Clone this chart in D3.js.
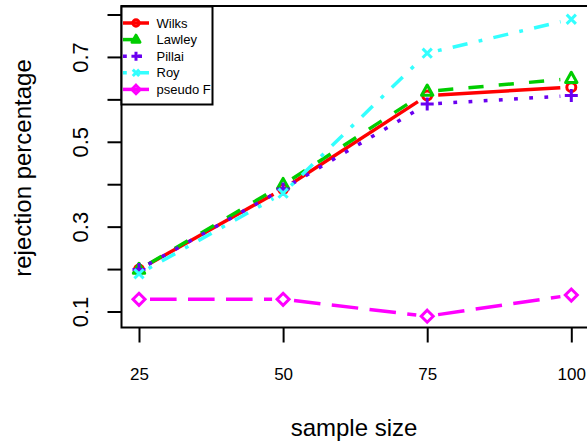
<!DOCTYPE html>
<html><head><meta charset="utf-8">
<script src="https://cdn.jsdelivr.net/npm/d3@7"></script>
<style>body{margin:0;background:#fff}svg{display:block;font-family:"Liberation Sans",Arial,Helvetica,sans-serif}</style>
</head><body><svg id="c" width="587" height="444"></svg>
<script>
const sampleSizes = [25, 50, 75, 100];
const wilks   = [0.20, 0.39, 0.61, 0.63];
const lawley  = [0.20, 0.40, 0.62, 0.65];
const pillai  = [0.20, 0.39, 0.59, 0.61];
const roy     = [0.19, 0.38, 0.71, 0.79];
const pseudoF = [0.13, 0.13, 0.09, 0.14];
const seriesNames = ["Wilks", "Lawley", "Pillai", "Roy", "pseudo F"];
const yTicks = [0.1, 0.2, 0.3, 0.4, 0.5, 0.6, 0.7, 0.8];
const yTickLabels = ["0.1", "", "0.3", "", "0.5", "", "0.7", ""];

const U = 3.8;
const styles = [
  {color:"#ff0000", dash:null, pch:"circle"},
  {color:"#00cd00", dash:[4*U,4*U], pch:"triangle"},
  {color:"#6a00f0", dash:[1*U,3*U], pch:"plus"},
  {color:"#33ffff", dash:[1*U,3*U,4*U,3*U], pch:"cross"},
  {color:"#ff00ff", dash:[7*U,3*U], pch:"diamond"}
];
const values = [wilks, lawley, pillai, roy, pseudoF];

const svg = d3.select("#c");
const x = d3.scaleLinear().domain([25,100]).range([139,571.3]);
const y = d3.scaleLinear().domain([0.1,0.8]).range([312,15]);
const L = 121.5, T = 6, B = 327.5, R = 588.5;

// plot box
svg.append("rect").attr("x",L).attr("y",T).attr("width",R-L).attr("height",B-T)
  .attr("fill","none").attr("stroke","#000").attr("stroke-width",2);

// y axis
const ya = svg.append("g").attr("transform",`translate(${L},0)`)
  .call(d3.axisLeft(y).tickValues(yTicks).tickSize(14).tickFormat((d,i)=>yTickLabels[i]));
ya.select(".domain").remove();
ya.selectAll(".tick").attr("transform",null);
ya.selectAll(".tick line").attr("stroke","#000").attr("stroke-width",2)
  .attr("y1",d=>y(d)).attr("y2",d=>y(d)).attr("x2",-14);
ya.selectAll(".tick text").attr("font-size",22).attr("fill","#000")
  .attr("x",0).attr("y",0).attr("dy",0).attr("text-anchor","middle")
  .attr("transform",d=>`translate(-33.5,${y(d)}) rotate(-90)`);

// x axis
const xa = svg.append("g").attr("transform",`translate(0,${B})`)
  .call(d3.axisBottom(x).tickValues(sampleSizes).tickSize(15).tickPadding(25).tickFormat(d3.format("d")));
xa.select(".domain").remove();
xa.selectAll("line").attr("stroke","#000").attr("stroke-width",2);
xa.selectAll("text").attr("font-size",17).attr("fill","#000");

// axis titles
svg.append("text").attr("x",354).attr("y",436).attr("text-anchor","middle")
  .attr("font-size",24).text("sample size");
svg.append("text").attr("transform","translate(31,168) rotate(-90)").attr("text-anchor","middle")
  .attr("font-size",24).text("rejection percentage");

function symbol(g, pch, cx, cy, color, s){
  const sw = 3;
  if(pch==="circle"){
    g.append("circle").attr("cx",cx).attr("cy",cy).attr("r",4.5*s).attr("fill","none").attr("stroke",color).attr("stroke-width",sw);
  } else if(pch==="triangle"){
    const r=6.3*s;
    g.append("path").attr("d",`M${cx},${cy-r}L${cx+r*0.9},${cy+r*0.6}L${cx-r*0.9},${cy+r*0.6}Z`).attr("fill","none").attr("stroke",color).attr("stroke-width",sw).attr("stroke-linejoin","round");
  } else if(pch==="plus"){
    const r=6.5*s;
    g.append("path").attr("d",`M${cx-r},${cy}H${cx+r}M${cx},${cy-r}V${cy+r}`).attr("stroke",color).attr("stroke-width",sw);
  } else if(pch==="cross"){
    const r=4.6*s;
    g.append("path").attr("d",`M${cx-r},${cy-r}L${cx+r},${cy+r}M${cx-r},${cy+r}L${cx+r},${cy-r}`).attr("stroke",color).attr("stroke-width",sw);
  } else if(pch==="diamond"){
    const r=6*s;
    g.append("path").attr("d",`M${cx},${cy-r}L${cx+r},${cy}L${cx},${cy+r}L${cx-r},${cy}Z`).attr("fill","none").attr("stroke",color).attr("stroke-width",sw);
  }
}

const gap = 11;
const plot = svg.append("g");
values.forEach((vals,si)=>{
  const st = styles[si];
  const g = plot.append("g");
  for(let i=0;i<vals.length-1;i++){
    const x1=x(sampleSizes[i]), y1=y(vals[i]), x2=x(sampleSizes[i+1]), y2=y(vals[i+1]);
    const dx=x2-x1, dy=y2-y1, len=Math.hypot(dx,dy);
    const ux=dx/len, uy=dy/len;
    const p = g.append("line").attr("x1",x1+ux*gap).attr("y1",y1+uy*gap)
      .attr("x2",x2-ux*gap).attr("y2",y2-uy*gap)
      .attr("stroke",st.color).attr("stroke-width",3.5);
    if(st.dash) p.attr("stroke-dasharray",st.dash.join(","));
  }
  vals.forEach((v,i)=>symbol(g, st.pch, x(sampleSizes[i]), y(v), st.color, 1));
});

// legend
const lg = svg.append("g");
lg.append("rect").attr("x",L).attr("y",6.5).attr("width",91).attr("height",98)
  .attr("fill","#fff").attr("stroke","none");
seriesNames.forEach((n,i)=>{
  const st = styles[i];
  const ly = 23 + i*16.6;
  const ln = lg.append("line").attr("x1",123).attr("x2",149).attr("y1",ly).attr("y2",ly)
    .attr("stroke",st.color).attr("stroke-width",3.5);
  if(st.dash) ln.attr("stroke-dasharray",st.dash.join(","));
  symbol(lg, st.pch, 136, ly, st.color, 0.7);
  lg.append("text").attr("x",156.5).attr("y",ly+4.5).attr("font-size",13).text(n);
});
lg.append("rect").attr("x",L).attr("y",6.5).attr("width",91).attr("height",98)
  .attr("fill","none").attr("stroke","#000").attr("stroke-width",2);
</script></body></html>
